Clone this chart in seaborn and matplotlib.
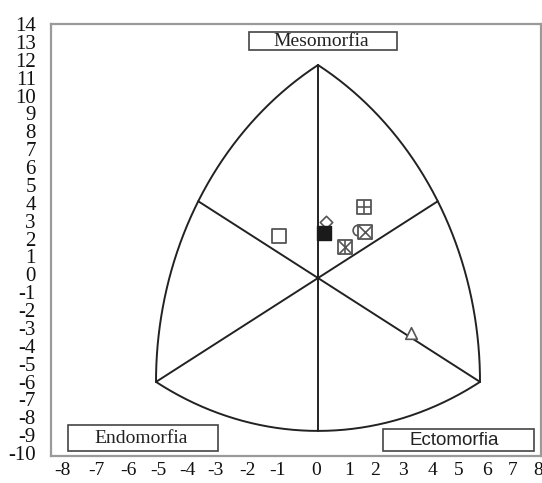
import numpy as np
import pandas as pd
import seaborn as sns
import matplotlib.pyplot as plt
from matplotlib.patches import Rectangle

# ---------------- data ----------------
x_tick_labels = list(range(-8, 9))
y_tick_labels = list(range(-10, 15))

# somatochart outline vertices (somatoplot coordinates)
apex = (0.0, 12.1)
corner_left = (-6.0, -5.9)
corner_right = (6.0, -5.9)

# subjects' somatopoints
point_x = [-1.43, 0.30, 0.22, 1.71, 1.49, 1.74, 1.00, 3.43]
point_y = [2.40, 3.16, 2.54, 4.05, 2.73, 2.63, 1.74, -3.10]
point_kind = ["square", "diamond", "filled", "plus_square", "circle",
              "x_square", "star_square", "triangle"]

region_labels = ["Mesomorfia", "Endomorfia", "Ectomorfia"]

# ---------------- layout / style ----------------
W, H = 542, 483
# pixel positions of the x tick labels as printed in the original figure
x_tick_px = [62, 96, 128, 158, 187, 215, 248, 278, 316, 349, 375, 403, 432, 459, 487, 513, 538]

# Reuleaux construction: y compression making the three sides equal
dxv = corner_right[0] - corner_left[0]
dyv = apex[1] - corner_left[1]
KY = np.sqrt(dxv**2 - (dxv / 2) ** 2) / dyv
R = dxv


def to_s(p):
    return np.array([p[0], p[1] * KY])


def from_s(q):
    return np.array([q[0], q[1] / KY])


def arc(center, p_start, p_end, n=200):
    c = to_s(center)
    a = to_s(p_start) - c
    b = to_s(p_end) - c
    t0 = np.arctan2(a[1], a[0])
    t1 = np.arctan2(b[1], b[0])
    dt = (t1 - t0 + np.pi) % (2 * np.pi) - np.pi
    t = np.linspace(t0, t0 + dt, n)
    xs = c[0] + R * np.cos(t)
    ys = (c[1] + R * np.sin(t)) / KY
    return xs, ys


def arc_mid(opposite):
    o = to_s(opposite)
    d = -o / np.linalg.norm(o)
    return from_s(o + R * d)


sns.set_theme(style="white")
plt.rcParams['font.family'] = ['Liberation Serif', 'DejaVu Serif']

fig = plt.figure(figsize=(W / 100, H / 100), dpi=100)
rect = [51 / W, 1 - 456 / H, 490 / W, 432 / H]

# frame + tick labels axes
ax_t = fig.add_axes(rect)
ax_t.set_facecolor('white')
ax_t.set_xlim(51, 541)
ax_t.set_ylim(-10.167, 13.944)
ax_t.set_xticks(x_tick_px)
ax_t.set_xticklabels([str(v) for v in x_tick_labels])
ax_t.set_yticks(y_tick_labels)
ax_t.set_yticklabels([str(v) for v in y_tick_labels])
ax_t.tick_params(axis='x', length=0, labelsize=14, pad=4, colors='#111111')
ax_t.tick_params(axis='y', length=0, labelsize=15, pad=11, colors='#111111')
for s in ax_t.spines.values():
    s.set_color('#9a9a9a')
    s.set_linewidth(1.6)
    s.set_visible(True)
ax_t.grid(False)

# chart axes
ax = fig.add_axes(rect, facecolor='none')
ax.set_xlim(-9.889, 8.259)
ax.set_ylim(-10.11, 14.43)
ax.set_axis_off()

line_kw = dict(color='#222222', lw=1.4, solid_capstyle='round', zorder=2)
# arcs (each centred on the opposite vertex)
for c, p0, p1 in [(corner_right, apex, corner_left),
                  (corner_left, apex, corner_right),
                  (apex, corner_left, corner_right)]:
    xs, ys = arc(c, p0, p1)
    ax.plot(xs, ys, **line_kw)
# spokes
spoke_ends = [apex, corner_left, corner_right,
              arc_mid(corner_right), arc_mid(corner_left), arc_mid(apex)]
for p in spoke_ends:
    ax.plot([0, p[0]], [0, p[1]], **line_kw)

df = pd.DataFrame({"x": point_x, "y": point_y, "kind": point_kind})
edge = '#555555'


def pts(kind):
    return df[df.kind == kind]


sns.scatterplot(data=pts("circle"), x="x", y="y", marker='o', s=60,
                facecolor='white', edgecolor=edge, linewidth=1.2, ax=ax, zorder=3)
sns.scatterplot(data=pts("diamond"), x="x", y="y", marker='D', s=40,
                facecolor='white', edgecolor=edge, linewidth=1.2, ax=ax, zorder=3)
for k in ["square", "plus_square", "x_square", "star_square"]:
    sns.scatterplot(data=pts(k), x="x", y="y", marker='s', s=100,
                    facecolor='white', edgecolor=edge, linewidth=1.3, ax=ax, zorder=4)
sns.scatterplot(data=pts("filled"), x="x", y="y", marker='s', s=100,
                color='#1a1a1a', edgecolor='#1a1a1a', linewidth=1.0, ax=ax, zorder=5)
sns.scatterplot(data=pts("plus_square"), x="x", y="y", marker='+', s=100,
                color=edge, linewidth=1.2, ax=ax, zorder=5)
sns.scatterplot(data=pts("x_square"), x="x", y="y", marker='x', s=100,
                color=edge, linewidth=1.2, ax=ax, zorder=5)
sns.scatterplot(data=pts("star_square"), x="x", y="y", marker='x', s=100,
                color=edge, linewidth=1.2, ax=ax, zorder=5)
sns.scatterplot(data=pts("star_square"), x="x", y="y", marker='|', s=100,
                color=edge, linewidth=1.2, ax=ax, zorder=5)
sns.scatterplot(data=pts("triangle"), x="x", y="y", marker='^', s=70,
                facecolor='white', edgecolor=edge, linewidth=1.2, ax=ax, zorder=4)

if ax.get_legend() is not None:
    ax.get_legend().remove()

# region label boxes (pixel boxes: x0, y0, x1, y1)
boxes = [(249, 32, 397, 50), (68, 425, 218, 451), (383, 429, 534, 451)]
text_pos = [(321, 41.5), (141, 438.5), (454, 440.5)]
fams = [['Liberation Serif'], ['Liberation Serif'], ['Liberation Sans']]
sizes = [14, 14, 13.5]
for (x0, y0, x1, y1), (cx, cy), lab, fam, fs in zip(boxes, text_pos, region_labels, fams, sizes):
    fig.add_artist(Rectangle((x0 / W, 1 - y1 / H), (x1 - x0) / W, (y1 - y0) / H,
                             transform=fig.transFigure, facecolor='white',
                             edgecolor='#444444', linewidth=1.2, zorder=6))
    fig.text(cx / W, 1 - cy / H, lab, ha='center', va='center', fontsize=fs,
             family=fam, color='#222222', zorder=7)

fig.savefig("out.png", dpi=100)
